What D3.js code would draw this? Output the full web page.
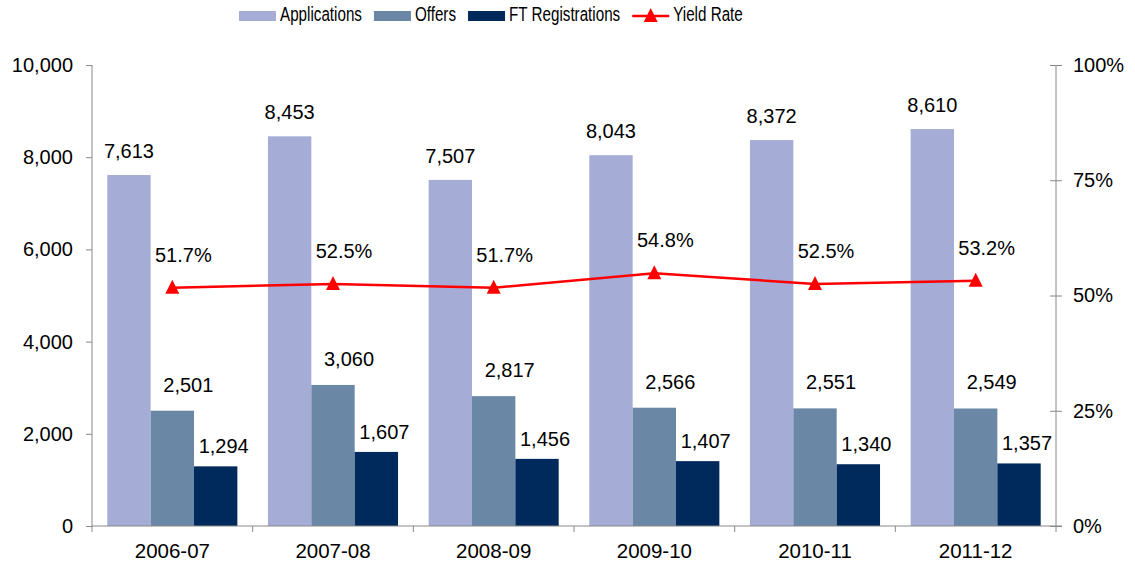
<!DOCTYPE html>
<html>
<head>
<meta charset="utf-8">
<script src="https://cdn.jsdelivr.net/npm/d3@7"></script>
<style>
  html, body { margin: 0; padding: 0; background: #fff; }
  svg { display: block; font-family: "Liberation Sans", Arial, sans-serif; }
</style>
</head>
<body>
<div id="chart"></div>
<script>
const categories = ['2006-07', '2007-08', '2008-09', '2009-10', '2010-11', '2011-12']
const applications = [7613, 8453, 7507, 8043, 8372, 8610]
const offers = [2501, 3060, 2817, 2566, 2551, 2549]
const ftRegistrations = [1294, 1607, 1456, 1407, 1340, 1357]
const yieldRate = [0.517, 0.525, 0.517, 0.548, 0.525, 0.532]

const leftTicks = [0, 2000, 4000, 6000, 8000, 10000]
const rightTicks = [0, 0.25, 0.5, 0.75, 1]

const seriesNames = ['Applications', 'Offers', 'FT Registrations']
const seriesValues = [applications, offers, ftRegistrations]
const colors = ['#A5ACD5', '#6B87A6', '#002A5C']
const lineColor = '#FF0000'
const axisColor = '#888888'

// label nudges per series (Excel placed them a bit off the bar centre)
const labelDx = [0, 16, 8]
const labelGap = [17, 19, 13]

const width = 1135
const height = 564
const plot = { left: 92, right: 1056, top: 65, bottom: 526 }

const svg = d3.select('#chart')
  .append('svg')
  .attr('width', width)
  .attr('height', height)

const x = d3.scaleBand()
  .domain(categories)
  .range([plot.left, plot.right])

const xInner = d3.scaleBand()
  .domain(seriesNames)
  .range([15.3, x.bandwidth() - 15.3])

const y = d3.scaleLinear().domain([0, 10000]).range([plot.bottom, plot.top])
const yRight = d3.scaleLinear().domain([0, 1]).range([plot.bottom, plot.top])

// bars
const rows = categories.map((c, i) => ({
  category: c,
  values: seriesNames.map((s, k) => ({ key: s, k, value: seriesValues[k][i] })),
}))

const groups = svg.append('g')
  .selectAll('g')
  .data(rows)
  .join('g')
  .attr('transform', d => `translate(${x(d.category)},0)`)

groups.selectAll('rect')
  .data(d => d.values)
  .join('rect')
  .attr('x', d => xInner(d.key))
  .attr('y', d => y(d.value))
  .attr('width', xInner.bandwidth())
  .attr('height', d => y(0) - y(d.value))
  .attr('fill', d => colors[d.k])

groups.selectAll('text.bar-label')
  .data(d => d.values)
  .join('text')
  .attr('class', 'bar-label')
  .attr('x', d => xInner(d.key) + xInner.bandwidth() / 2 + labelDx[d.k])
  .attr('y', d => y(d.value) - labelGap[d.k])
  .attr('text-anchor', 'middle')
  .attr('font-size', 20)
  .attr('fill', '#000')
  .text(d => d3.format(',')(d.value))

// left axis
const leftAxis = svg.append('g')
  .attr('transform', `translate(${plot.left},0)`)
  .call(d3.axisLeft(y).tickValues(leftTicks).tickFormat(d3.format(',')).tickSize(6).tickSizeOuter(0).tickPadding(13))
leftAxis.select('.domain').attr('stroke', axisColor).attr('d', `M0,${plot.top}V${plot.bottom + 6}`)
leftAxis.selectAll('.tick line').attr('stroke', axisColor)
leftAxis.selectAll('.tick text').attr('font-size', 20).attr('fill', '#000').attr('font-family', null)

// right axis, ticks cross the line
const rightAxis = svg.append('g')
  .attr('transform', `translate(${plot.right},0)`)
  .call(d3.axisRight(yRight).tickValues(rightTicks).tickFormat(d3.format('.0%')).tickSize(6).tickSizeOuter(0).tickPadding(11))
rightAxis.select('.domain').attr('stroke', axisColor).attr('d', `M0,${plot.top}V${plot.bottom + 6}`)
rightAxis.selectAll('.tick line').attr('stroke', axisColor).attr('x1', -6).attr('x2', 6)
rightAxis.selectAll('.tick text').attr('font-size', 20).attr('fill', '#000').attr('font-family', null)

// bottom axis
const bottomAxis = svg.append('g')
  .attr('transform', `translate(0,${plot.bottom})`)
  .call(d3.axisBottom(x).tickSize(0).tickSizeOuter(0).tickPadding(17))
bottomAxis.select('.domain').attr('stroke', axisColor).attr('d', `M${plot.left},0H${plot.right + 6}`)
bottomAxis.selectAll('.tick text').attr('font-size', 20.5).attr('fill', '#000').attr('font-family', null)

svg.append('g')
  .selectAll('line')
  .data(categories.slice(1))
  .join('line')
  .attr('x1', d => x(d))
  .attr('x2', d => x(d))
  .attr('y1', plot.bottom)
  .attr('y2', plot.bottom + 6)
  .attr('stroke', axisColor)

// yield rate line
const cx = c => x(c) + x.bandwidth() / 2
const triangle = 'M0,-8L7,6L-7,6Z'

svg.append('path')
  .datum(yieldRate)
  .attr('fill', 'none')
  .attr('stroke', lineColor)
  .attr('stroke-width', 2.5)
  .attr('d', d3.line().x((d, i) => cx(categories[i])).y(d => yRight(d)))

svg.append('g')
  .selectAll('path')
  .data(yieldRate)
  .join('path')
  .attr('d', triangle)
  .attr('fill', lineColor)
  .attr('transform', (d, i) => `translate(${cx(categories[i])},${yRight(d)})`)

svg.append('g')
  .selectAll('text')
  .data(yieldRate)
  .join('text')
  .attr('x', (d, i) => cx(categories[i]) + 11)
  .attr('y', d => yRight(d) - 26)
  .attr('text-anchor', 'middle')
  .attr('font-size', 20)
  .text(d => d3.format('.1%')(d))

// legend
const legendItems = seriesNames.map((s, k) => ({ name: s, color: colors[k], type: 'bar' }))
  .concat([{ name: 'Yield Rate', color: lineColor, type: 'line' }])

const legend = svg.append('g').attr('transform', 'translate(239,16)')
const squeeze = 0.78
let cursor = 0
legendItems.forEach(item => {
  const g = legend.append('g').attr('transform', `translate(${cursor},0)`)
  if (item.type === 'bar') {
    g.append('rect')
      .attr('x', 0).attr('y', -5).attr('width', 37).attr('height', 10)
      .attr('fill', item.color)
  } else {
    g.append('line')
      .attr('x1', 0).attr('x2', 37).attr('y1', 0).attr('y2', 0)
      .attr('stroke', item.color).attr('stroke-width', 2.5)
    g.append('path')
      .attr('d', triangle)
      .attr('fill', item.color)
      .attr('transform', 'translate(18.5,0)')
  }
  const t = g.append('text')
    .attr('transform', `translate(41,5) scale(${squeeze},1)`)
    .attr('font-size', 19.5)
    .text(item.name)
  cursor += 41 + t.node().getComputedTextLength() * squeeze + 12
})
</script>
</body>
</html>
